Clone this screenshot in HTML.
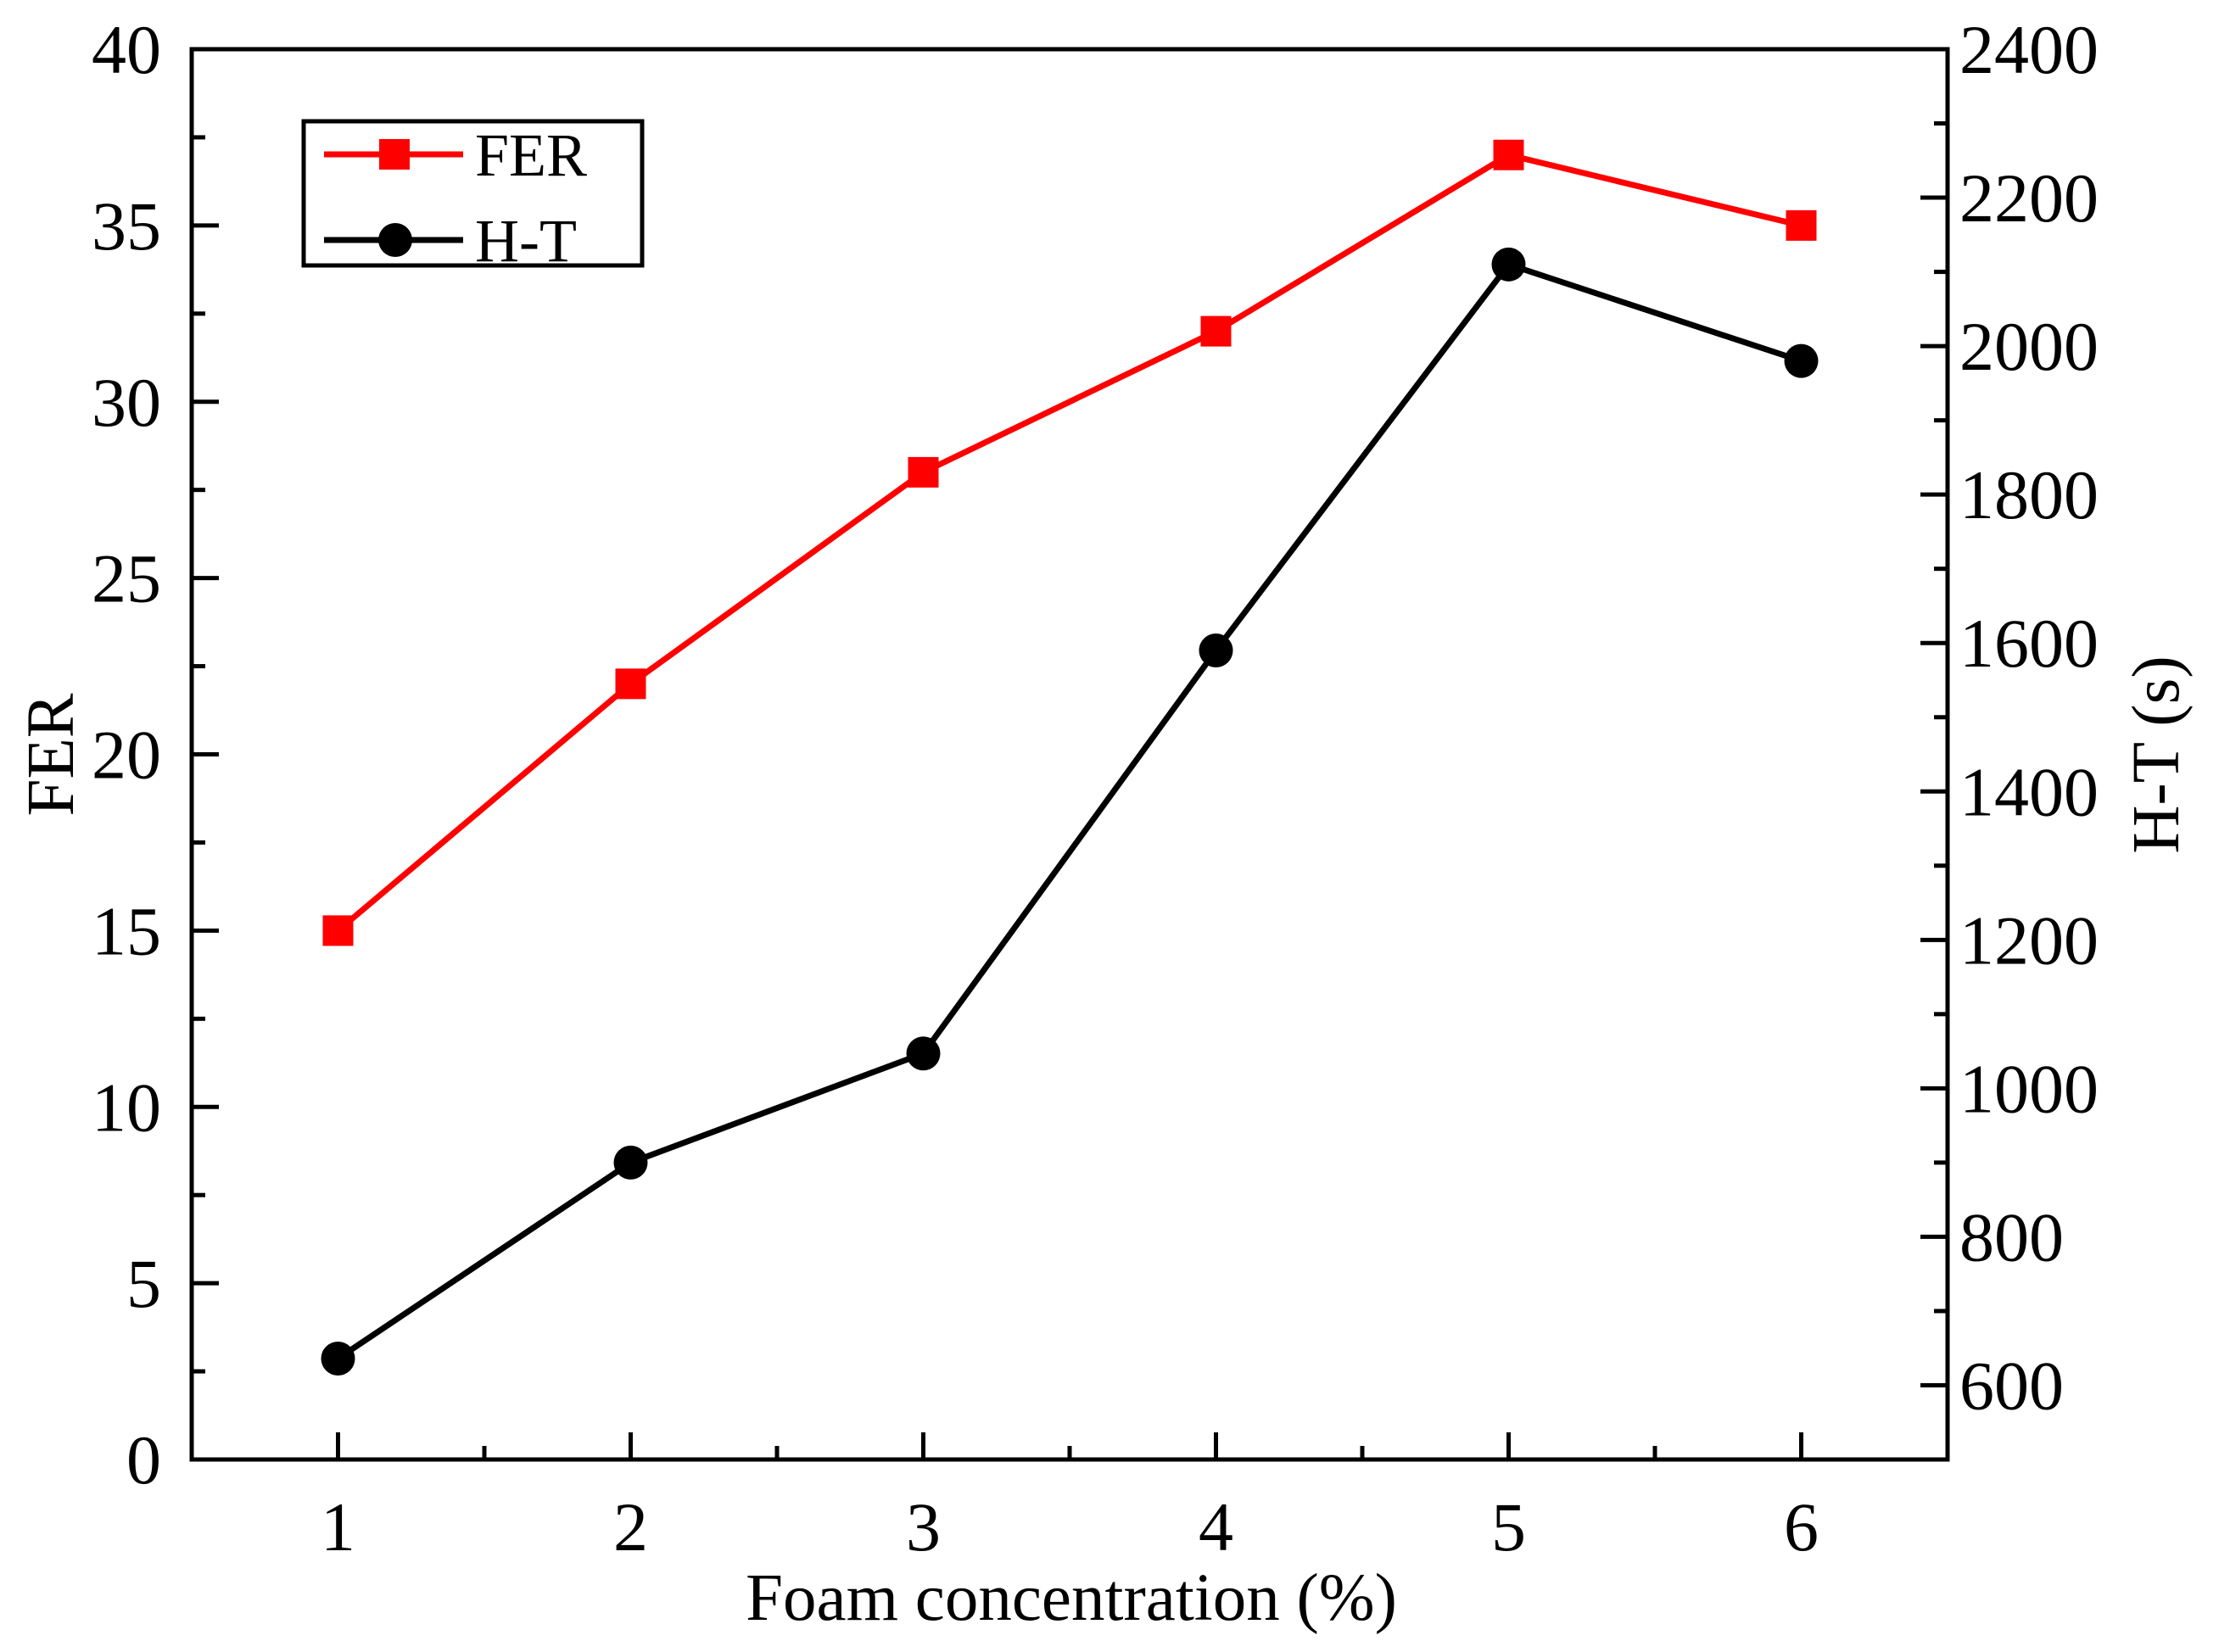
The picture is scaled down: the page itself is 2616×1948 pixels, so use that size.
<!DOCTYPE html>
<html><head><meta charset="utf-8"><style>
html,body{margin:0;padding:0;background:#fff}
svg{display:block}
text{font-family:"Liberation Serif",serif;fill:#000}
</style></head><body>
<svg id="chart" width="2616" height="1948" xmlns="http://www.w3.org/2000/svg"></svg>
<script>
const categories=[1,2,3,4,5,6];
const ferValues=[15,22,28,32,37,35];
const htValues=[636,900,1047,1590,2110,1980];
const leftTicks=[0,5,10,15,20,25,30,35,40];
const rightTicks=[600,800,1000,1200,1400,1600,1800,2000,2200,2400];
const xTicks=[1,2,3,4,5,6];

const L=226,R=2296,T=58,B=1721;
const xS=v=>L+(v-0.5)/6*(R-L);
const yL=v=>B-(v/40)*(B-T);
const yR=v=>B-((v-500)/1900)*(B-T);
const NS="http://www.w3.org/2000/svg";
const svg=document.getElementById('chart');
function mk(tag,attrs,parent){const e=document.createElementNS(NS,tag);for(const k in attrs)e.setAttribute(k,attrs[k]);(parent||svg).appendChild(e);return e;}

for(let v=0;v<=40;v+=2.5){const maj=v%5===0;const t=mk('line',{x1:L,x2:L+(maj?32:16),y1:yL(v),y2:yL(v),stroke:'#000','stroke-width':5});

}
for(let v=500;v<=2400;v+=100){const maj=v%200===0;const t=mk('line',{x1:R,x2:R-(maj?32:16),y1:yR(v),y2:yR(v),stroke:'#000','stroke-width':5});

}
for(let v=0.5;v<=6.5;v+=0.5){const maj=Number.isInteger(v);const t=mk('line',{x1:xS(v),x2:xS(v),y1:B,y2:B-(maj?32:16),stroke:'#000','stroke-width':5});

}

const frame=mk('rect',{x:L,y:T,width:R-L,height:B-T,fill:'none',stroke:'#000','stroke-width':5});



leftTicks.forEach(v=>{const t=mk('text',{x:190,y:yL(v)+28,'font-size':82,'text-anchor':'end'});t.textContent=v;

});
rightTicks.forEach(v=>{const t=mk('text',{x:2310,y:yR(v)+28,'font-size':82,'text-anchor':'start'});t.textContent=v;

});
xTicks.forEach(v=>{const t=mk('text',{x:xS(v),y:1828,'font-size':82,'text-anchor':'middle'});t.textContent=v;

});

let t=mk('text',{x:1263,y:1910,'font-size':79,'text-anchor':'middle'});t.textContent='Foam concentration (%)';


t=mk('text',{x:0,y:0,'font-size':79,'text-anchor':'middle',transform:'translate(86,890) rotate(-90)'});t.textContent='FER';


t=mk('text',{x:0,y:0,'font-size':79,'text-anchor':'middle',transform:'translate(2568,890) rotate(-90)'});t.textContent='H-T (s)';



const ferLine=mk('polyline',{points:categories.map((c,i)=>xS(c)+','+yL(ferValues[i])).join(' '),fill:'none',stroke:'#ff0000','stroke-width':7});


const htLine=mk('polyline',{points:categories.map((c,i)=>xS(c)+','+yR(htValues[i])).join(' '),fill:'none',stroke:'#000','stroke-width':7});


categories.forEach((c,i)=>{
 const s=mk('rect',{x:xS(c)-18,y:yL(ferValues[i])-18,width:36,height:36,fill:'#ff0000'});
 
 
 const p=mk('circle',{cx:xS(c),cy:yR(htValues[i]),r:20,fill:'#000'});
 
 
});

const lg=mk('g',{});


mk('rect',{x:358,y:143,width:399,height:170,fill:'#fff',stroke:'#000','stroke-width':5},lg);
const e1=mk('g',{},lg);


mk('line',{x1:382,x2:546,y1:182,y2:182,stroke:'#ff0000','stroke-width':7},e1);
mk('rect',{x:447,y:164,width:36,height:36,fill:'#ff0000'},e1);
let lt=mk('text',{x:560,y:207,'font-size':72},e1);lt.textContent='FER';
const e2=mk('g',{},lg);


mk('line',{x1:382,x2:546,y1:283,y2:283,stroke:'#000','stroke-width':7},e2);
mk('circle',{cx:466,cy:283,r:20,fill:'#000'},e2);
lt=mk('text',{x:560,y:308,'font-size':72},e2);lt.textContent='H-T';
</script>
</body></html>
